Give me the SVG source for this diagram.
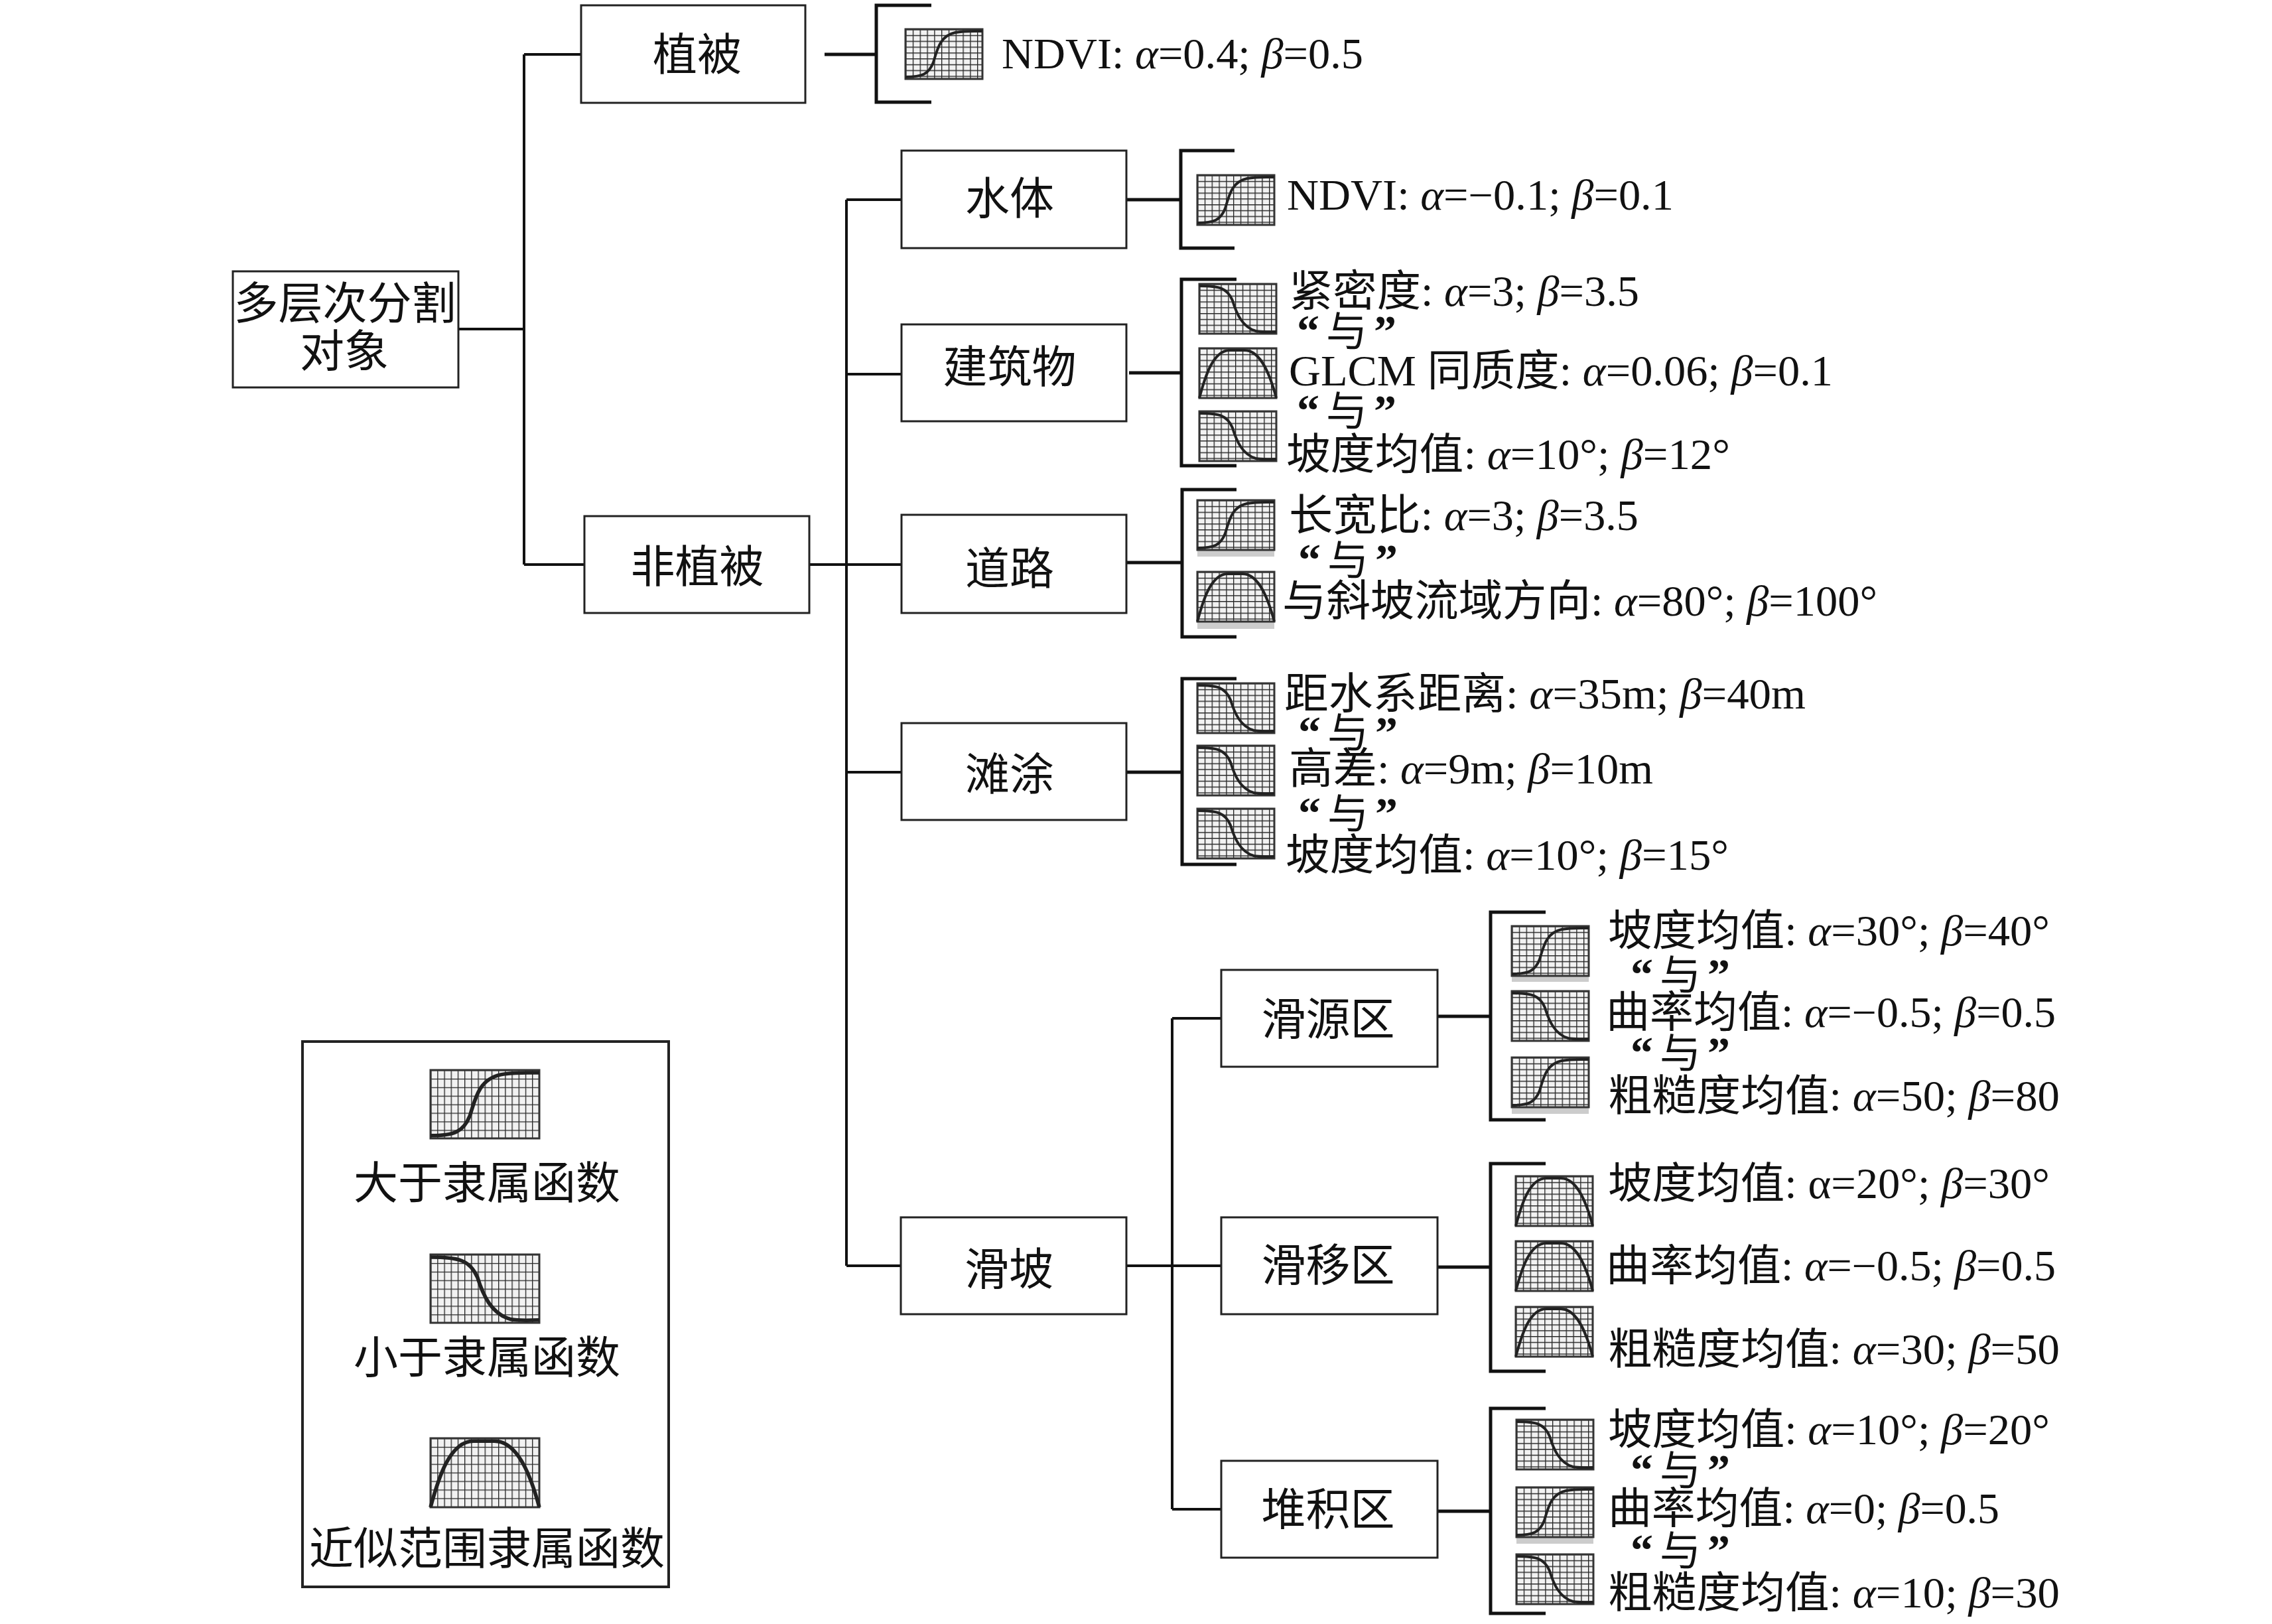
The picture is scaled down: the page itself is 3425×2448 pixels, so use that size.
<svg xmlns="http://www.w3.org/2000/svg" width="3425" height="2448" viewBox="0 0 3425 2448">
<style>
.t{font-family:"Liberation Serif","Noto Sans CJK SC",serif;font-size:65px;fill:#111}
.c{text-anchor:middle;font-size:67px}
.q{font-size:62px;letter-spacing:10px}
.k{font-weight:bold;font-size:68px}
.i{font-style:italic}
.b{fill:#fff;stroke:#222;stroke-width:3}
.cn{fill:none;stroke:#111;stroke-width:4}
.br{fill:none;stroke:#111;stroke-width:5}
.ib{stroke:#333;stroke-width:3}
.gs{fill:url(#gs)}
.gl{fill:url(#gl)}
.cv{fill:none;stroke:#222;stroke-width:4}
.sh{fill:#ccc}
</style>
<defs>
<pattern id="gs" patternUnits="userSpaceOnUse" width="10.8" height="8.8">
<rect width="10.8" height="8.8" fill="#f2f2f2"/>
<path d="M0 0H10.8M0 0V8.8" fill="none" stroke="#bbb" stroke-width="4"/>
<path d="M0 0H10.8M0 0V8.8" fill="none" stroke="#222" stroke-width="2.2"/>
</pattern>
<pattern id="gl" patternUnits="userSpaceOnUse" width="10.2" height="12.9">
<rect width="10.2" height="12.9" fill="#f2f2f2"/>
<path d="M0 0H10.2M0 0V12.9" fill="none" stroke="#bbb" stroke-width="4"/>
<path d="M0 0H10.2M0 0V12.9" fill="none" stroke="#222" stroke-width="2.2"/>
</pattern>
<path id="cu" d="M0 72C25 72 35 68 42 50C48 30 52 10 75 5C90 2 105 3 116 3"/>
<path id="cd" d="M0 3C30 3 42 6 50 25C56 45 65 65 85 71C95 73 105 72 116 72"/>
<path id="cb" d="M0 75C8 45 20 3 46 3H68C94 3 108 45 116 75"/>
<g id="iu"><rect width="116" height="75" class="ib gs"/><use href="#cu" class="cv"/></g>
<g id="id"><rect width="116" height="75" class="ib gs"/><use href="#cd" class="cv"/></g>
<g id="ib"><rect width="116" height="75" class="ib gs"/><use href="#cb" class="cv"/></g>
</defs>
<rect width="3425" height="2448" fill="#fff"/>

<g id="connectors">
<path class="cn" d="M691 496H790M790 82V851M790 82H876M790 851H881M1220 851H1359M1276 301V1908M1276 301H1359M1276 564H1359M1276 1164H1359M1276 1908H1358M1698 1908H1841M1767 1535V2275M1767 1535H1841M1767 2275H1841"/>
<path class="br" d="M1243 82H1321M1404 8H1321V154H1404"/>
<path class="br" d="M1698 301H1780M1861 227H1780V374H1861"/>
<path class="br" d="M1702 562H1781M1864 421H1781V702H1864"/>
<path class="br" d="M1698 848H1782M1864 738H1782V960H1864"/>
<path class="br" d="M1698 1164H1782M1864 1023H1782V1303H1864"/>
<path class="br" d="M2167 1532H2247M2330 1375H2247V1688H2330"/>
<path class="br" d="M2167 1910H2247M2330 1754H2247V2067H2330"/>
<path class="br" d="M2167 2278H2247M2330 2123H2247V2432H2330"/>
</g>

<g id="node-root"><rect class="b" x="351" y="409" width="340" height="175"/><text class="t c" x="520" y="481">多层次分割</text><text class="t c" x="519" y="553">对象</text></g>
<g id="node-veg"><rect class="b" x="876" y="8" width="338" height="147"/><text class="t c" x="1051" y="106">植被</text></g>
<g id="node-nonveg"><rect class="b" x="881" y="778" width="339" height="146"/><text class="t c" x="1051" y="878">非植被</text></g>
<g id="node-water"><rect class="b" x="1359" y="227" width="339" height="147"/><text class="t c" x="1522" y="323">水体</text></g>
<g id="node-building"><rect class="b" x="1359" y="489" width="339" height="146"/><text class="t c" x="1522" y="577">建筑物</text></g>
<g id="node-road"><rect class="b" x="1359" y="776" width="339" height="148"/><text class="t c" x="1522" y="881">道路</text></g>
<g id="node-beach"><rect class="b" x="1359" y="1090" width="339" height="146"/><text class="t c" x="1522" y="1191">滩涂</text></g>
<g id="node-landslide"><rect class="b" x="1358" y="1835" width="340" height="146"/><text class="t c" x="1521" y="1937">滑坡</text></g>
<g id="node-source"><rect class="b" x="1841" y="1462" width="326" height="146"/><text class="t c" x="2002" y="1560">滑源区</text></g>
<g id="node-move"><rect class="b" x="1841" y="1835" width="326" height="146"/><text class="t c" x="2002" y="1931">滑移区</text></g>
<g id="node-deposit"><rect class="b" x="1841" y="2202" width="326" height="146"/><text class="t c" x="2002" y="2299">堆积区</text></g>

<g id="rule-veg"><use href="#iu" x="1365" y="44"/>
<text class="t" x="1510" y="103" textLength="545" lengthAdjust="spacingAndGlyphs">NDVI: <tspan class="i">α</tspan>=0.4; <tspan class="i">β</tspan>=0.5</text></g>

<g id="rule-water"><use href="#iu" x="1805" y="264"/>
<text class="t" x="1940" y="316" textLength="583" lengthAdjust="spacingAndGlyphs">NDVI: <tspan class="i">α</tspan>=−0.1; <tspan class="i">β</tspan>=0.1</text></g>

<g id="rule-building"><use href="#id" x="1808" y="428"/><use href="#ib" x="1808" y="525"/><use href="#id" x="1808" y="620"/>
<text class="t" x="1943" y="461" textLength="528" lengthAdjust="spacingAndGlyphs">紧密度: <tspan class="i">α</tspan>=3; <tspan class="i">β</tspan>=3.5</text>
<text class="t q" x="1955" y="522"><tspan class="k">“</tspan>与<tspan class="k">”</tspan></text>
<text class="t" x="1943" y="581" textLength="820" lengthAdjust="spacingAndGlyphs">GLCM 同质度: <tspan class="i">α</tspan>=0.06; <tspan class="i">β</tspan>=0.1</text>
<text class="t q" x="1955" y="642"><tspan class="k">“</tspan>与<tspan class="k">”</tspan></text>
<text class="t" x="1939" y="707" textLength="669" lengthAdjust="spacingAndGlyphs">坡度均值: <tspan class="i">α</tspan>=10°; <tspan class="i">β</tspan>=12°</text></g>

<g id="rule-road"><rect class="sh" x="1805" y="829" width="116" height="10"/><rect class="sh" x="1805" y="937" width="116" height="11"/><use href="#iu" x="1805" y="754"/><use href="#ib" x="1805" y="862"/>
<text class="t" x="1943" y="799" textLength="527" lengthAdjust="spacingAndGlyphs">长宽比: <tspan class="i">α</tspan>=3; <tspan class="i">β</tspan>=3.5</text>
<text class="t q" x="1957" y="867"><tspan class="k">“</tspan>与<tspan class="k">”</tspan></text>
<text class="t" x="1933" y="928" textLength="897" lengthAdjust="spacingAndGlyphs">与斜坡流域方向: <tspan class="i">α</tspan>=80°; <tspan class="i">β</tspan>=100°</text></g>

<g id="rule-beach"><use href="#id" x="1805" y="1030"/><use href="#id" x="1805" y="1124"/><use href="#id" x="1805" y="1219"/>
<text class="t" x="1936" y="1068" textLength="786" lengthAdjust="spacingAndGlyphs">距水系距离: <tspan class="i">α</tspan>=35m; <tspan class="i">β</tspan>=40m</text>
<text class="t q" x="1957" y="1127"><tspan class="k">“</tspan>与<tspan class="k">”</tspan></text>
<text class="t" x="1943" y="1181" textLength="549" lengthAdjust="spacingAndGlyphs">高差: <tspan class="i">α</tspan>=9m; <tspan class="i">β</tspan>=10m</text>
<text class="t q" x="1957" y="1249"><tspan class="k">“</tspan>与<tspan class="k">”</tspan></text>
<text class="t" x="1938" y="1311" textLength="668" lengthAdjust="spacingAndGlyphs">坡度均值: <tspan class="i">α</tspan>=10°; <tspan class="i">β</tspan>=15°</text></g>

<g id="rule-source"><rect class="sh" x="2279" y="1470" width="116" height="10"/><rect class="sh" x="2279" y="1668" width="116" height="11"/><use href="#iu" x="2279" y="1396"/><use href="#id" x="2279" y="1494"/><use href="#iu" x="2279" y="1594"/>
<text class="t" x="2424" y="1425" textLength="666" lengthAdjust="spacingAndGlyphs">坡度均值: <tspan class="i">α</tspan>=30°; <tspan class="i">β</tspan>=40°</text>
<text class="t q" x="2458" y="1492"><tspan class="k">“</tspan>与<tspan class="k">”</tspan></text>
<text class="t" x="2421" y="1548" textLength="678" lengthAdjust="spacingAndGlyphs">曲率均值: <tspan class="i">α</tspan>=−0.5; <tspan class="i">β</tspan>=0.5</text>
<text class="t q" x="2458" y="1610"><tspan class="k">“</tspan>与<tspan class="k">”</tspan></text>
<text class="t" x="2424" y="1674" textLength="681" lengthAdjust="spacingAndGlyphs">粗糙度均值: <tspan class="i">α</tspan>=50; <tspan class="i">β</tspan>=80</text></g>

<g id="rule-move"><use href="#ib" x="2285" y="1773"/><use href="#ib" x="2285" y="1871"/><use href="#ib" x="2285" y="1970"/>
<text class="t" x="2424" y="1806" textLength="666" lengthAdjust="spacingAndGlyphs">坡度均值: α=20°; <tspan class="i">β</tspan>=30°</text>
<text class="t" x="2421" y="1930" textLength="678" lengthAdjust="spacingAndGlyphs">曲率均值: <tspan class="i">α</tspan>=−0.5; <tspan class="i">β</tspan>=0.5</text>
<text class="t" x="2424" y="2056" textLength="681" lengthAdjust="spacingAndGlyphs">粗糙度均值: <tspan class="i">α</tspan>=30; <tspan class="i">β</tspan>=50</text></g>

<g id="rule-deposit"><rect class="sh" x="2286" y="2317" width="116" height="10"/><use href="#id" x="2286" y="2140"/><use href="#iu" x="2286" y="2242"/><use href="#id" x="2286" y="2343"/>
<text class="t" x="2424" y="2177" textLength="666" lengthAdjust="spacingAndGlyphs">坡度均值: <tspan class="i">α</tspan>=10°; <tspan class="i">β</tspan>=20°</text>
<text class="t q" x="2458" y="2239"><tspan class="k">“</tspan>与<tspan class="k">”</tspan></text>
<text class="t" x="2424" y="2296" textLength="590" lengthAdjust="spacingAndGlyphs">曲率均值: <tspan class="i">α</tspan>=0; <tspan class="i">β</tspan>=0.5</text>
<text class="t q" x="2458" y="2360"><tspan class="k">“</tspan>与<tspan class="k">”</tspan></text>
<text class="t" x="2424" y="2423" textLength="681" lengthAdjust="spacingAndGlyphs">粗糙度均值: <tspan class="i">α</tspan>=10; <tspan class="i">β</tspan>=30</text></g>

<g id="legend"><rect class="b" x="456" y="1570" width="552" height="822" style="stroke-width:4"/>
<g transform="translate(649,1613)"><rect width="164" height="103" class="ib gl"/><use href="#cu" class="cv" transform="scale(1.414,1.373)"/></g>
<text class="t c" x="734" y="1807">大于隶属函数</text>
<g transform="translate(649,1891)"><rect width="164" height="103" class="ib gl"/><use href="#cd" class="cv" transform="scale(1.414,1.373)"/></g>
<text class="t c" x="734" y="2070">小于隶属函数</text>
<g transform="translate(649,2168)"><rect width="164" height="104" class="ib gl"/><use href="#cb" class="cv" transform="scale(1.414,1.386)"/></g>
<text class="t c" x="734" y="2358">近似范围隶属函数</text></g>
</svg>
